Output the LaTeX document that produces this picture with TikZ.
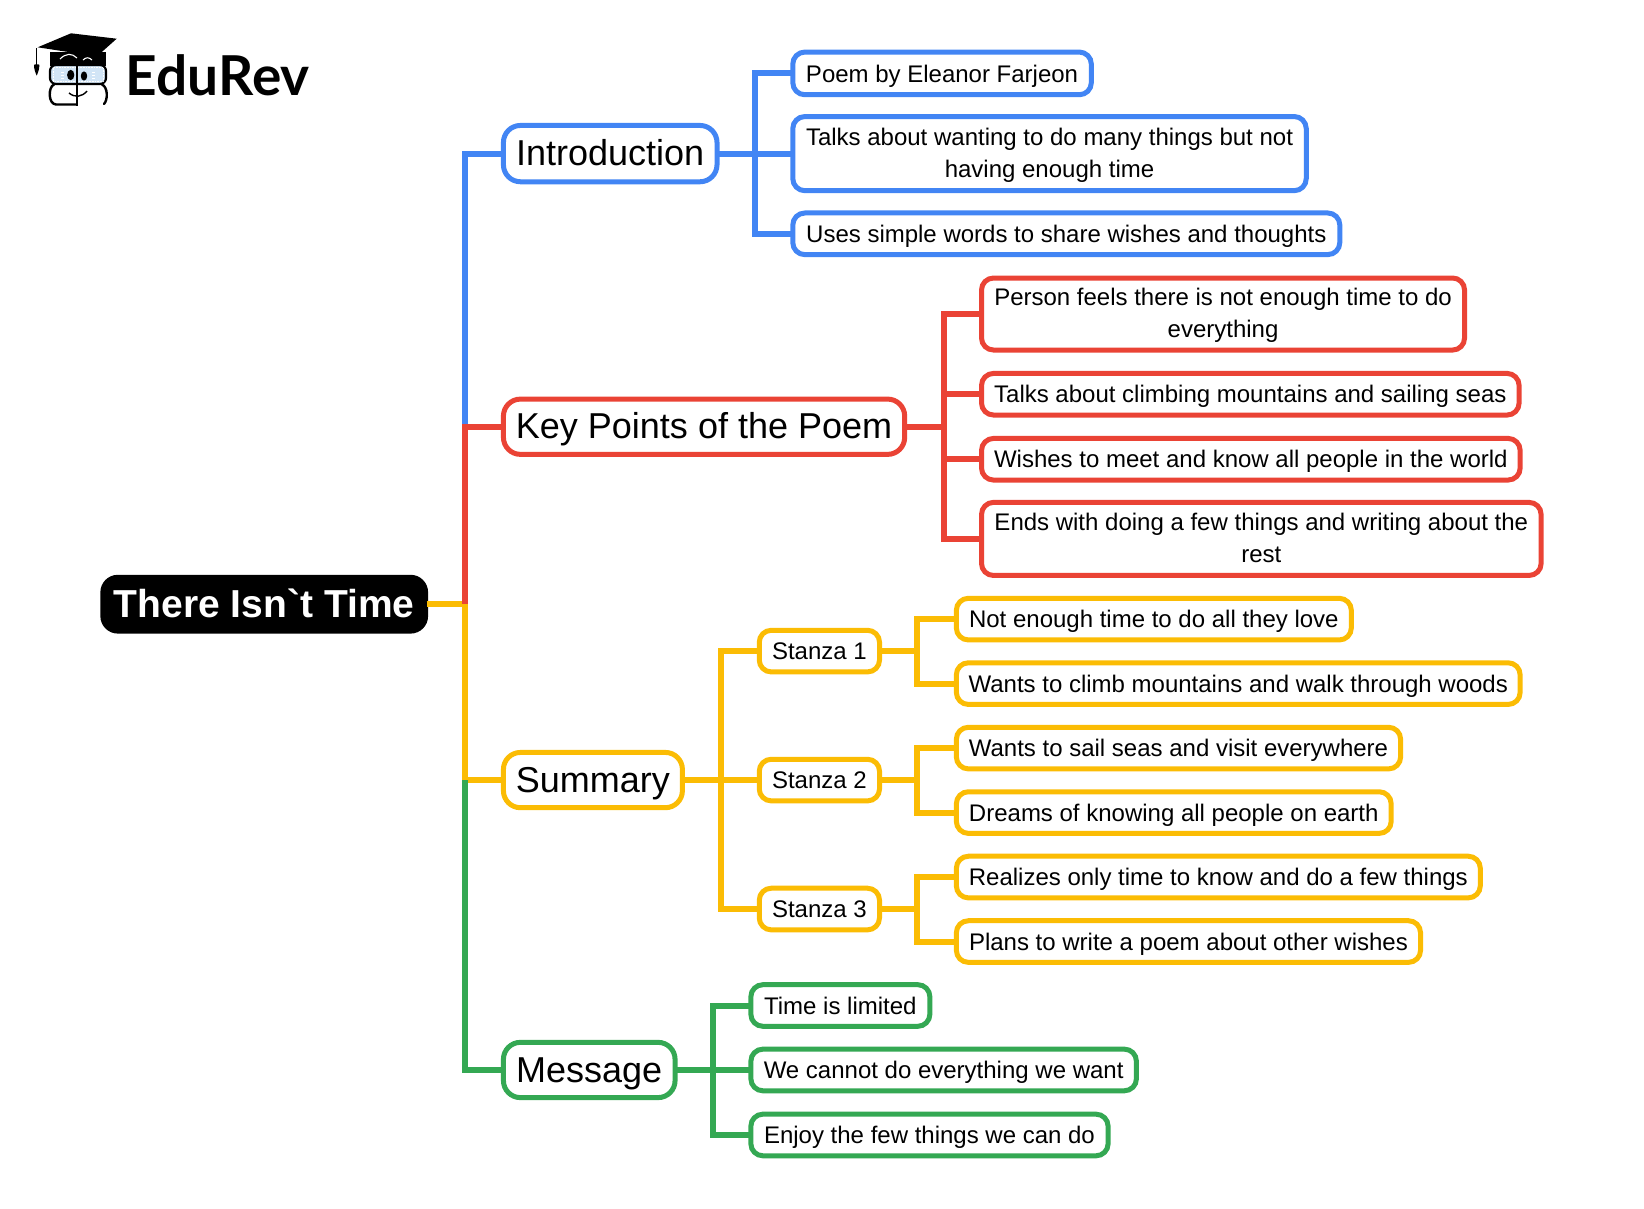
\documentclass[tikz,border=0pt]{standalone}
\usepackage{fontspec}
\setmainfont{Liberation Sans}
\newfontfamily\plainsans{Liberation Sans}
\newfontfamily\logofont{Lato}
\definecolor{cblue}{HTML}{4285F4}
\definecolor{cred}{HTML}{EA4335}
\definecolor{cyel}{HTML}{FBBC04}
\definecolor{cgrn}{HTML}{34A853}
\definecolor{lens}{HTML}{D2E5F6}
% line strut: #1 = distance of the baseline below the middle of the line, in em
\newcommand{\lst}[1]{\rule[-.28em]{0pt}{\dimexpr #1em*2+.56em\relax}}
% strut of the first line of a two-line label
\newcommand{\fst}{\rule{0pt}{.92em}}
\tikzset{
  every node/.style={inner sep=0pt,outer sep=0pt,align=center},
  box/.style={draw,fill=white,line width=5pt,rounded corners=12pt},
  leaf/.style={box,execute at begin node=\lst{.36},font=\fontsize{24}{31.5}\selectfont},
  leaftwo/.style={box,font=\fontsize{24}{31.5}\selectfont},
  topic/.style={box,rounded corners=17pt,execute at begin node=\lst{.34},font=\fontsize{36}{44}\selectfont},
  rootnode/.style={draw=black,line width=3pt,fill=black,text=white,rounded corners=16pt,execute at begin node=\lst{.34},font=\plainsans\bfseries\fontsize{39}{46}\selectfont},
  link/.style={line width=6pt,line join=miter},
  bl/.style={draw=cblue},
  rd/.style={draw=cred},
  yl/.style={draw=cyel},
  gr/.style={draw=cgrn},
}
% name, x1, y1, x2, y2 (outer edges), styles, text
\newcommand{\bx}[7]{%
  \pgfmathsetmacro{\wid}{(#4-#2)*1.0485-2.4}%
  \pgfmathsetmacro{\hei}{(#5-#3)*1.0485-2.4}%
  \node[#6,minimum width=\wid pt,minimum height=\hei pt] (#1) at ({(#2+#4)/2},{(#3+#5)/2}) {#7};}
\begin{document}
\begin{tikzpicture}[x=1.0485pt,y=-1.0485pt]
\useasboundingbox (0,0) rectangle (1568,1153);

\bx{root}{96}{548.5}{408}{604}{rootnode}{There Isn`t Time}
\bx{intro}{479}{118.5}{685}{174.5}{topic,bl}{Introduction}
\bx{keyp}{479}{379.5}{864}{434.5}{topic,rd}{Key Points of the Poem}
\bx{summ}{479}{716.5}{652}{771.5}{topic,yl}{Summary}
\bx{mess}{479}{993}{645}{1048}{topic,gr}{Message}

\bx{a1}{755}{48.5}{1042}{91.5}{leaf,bl}{Poem by Eleanor Farjeon}
\bx{a2}{755}{110}{1247}{183}{leaftwo,bl}{\fst Talks about wanting to do many things but not\\\lst{.36}having enough time}
\bx{a3}{755}{202}{1279}{244}{leaf,bl}{Uses simple words to share wishes and thoughts}

\bx{b1}{935}{264}{1398}{335}{leaftwo,rd}{\fst Person feels there is not enough time to do\\\lst{.36}everything}
\bx{b2}{935}{355}{1450}{397}{leaf,rd}{Talks about climbing mountains and sailing seas}
\bx{b3}{935}{417}{1451}{459}{leaf,rd}{Wishes to meet and know all people in the world}
\bx{b4}{935}{478}{1471}{550}{leaftwo,rd}{\fst Ends with doing a few things and writing about the\\\lst{.36}rest}

\bx{s1}{723}{600}{840}{642}{leaf,yl}{Stanza 1}
\bx{s2}{723}{723}{840}{765}{leaf,yl}{Stanza 2}
\bx{s3}{723}{846}{840}{888}{leaf,yl}{Stanza 3}
\bx{c1}{911}{569.5}{1290}{611.5}{leaf,yl}{Not enough time to do all they love}
\bx{c2}{911}{631}{1451}{673}{leaf,yl}{Wants to climb mountains and walk through woods}
\bx{c3}{911}{692.5}{1337}{734.5}{leaf,yl}{Wants to sail seas and visit everywhere}
\bx{c4}{911}{754}{1328}{796}{leaf,yl}{Dreams of knowing all people on earth}
\bx{c5}{911}{815.5}{1413}{857.5}{leaf,yl}{Realizes only time to know and do a few things}
\bx{c6}{911}{877}{1356}{919}{leaf,yl}{Plans to write a poem about other wishes}

\bx{d1}{715}{938}{888}{980}{leaf,gr}{Time is limited}
\bx{d2}{715}{999.5}{1085}{1041.5}{leaf,gr}{We cannot do everything we want}
\bx{d3}{715}{1061.5}{1058}{1103.5}{leaf,gr}{Enjoy the few things we can do}

% bus lines
\coordinate (xT) at (443.8,0);
\coordinate (xA) at (720,0);
\coordinate (xB) at (900,0);
\coordinate (xC) at (688,0);
\coordinate (xS) at (875,0);
\coordinate (xD) at (680,0);

\draw[link,bl] (intro.west) -| (xT |- keyp.west);
\draw[link,yl] (root.east) -- (xT |- root.east) |- (summ.west);
\draw[link,rd] (keyp.west) -| (xT |- root.east);
\draw[link,gr] (mess.west) -| (xT |- summ.west);

\draw[link,bl] (intro.east) -- (a2.west) (a1.west) -| (xA |- intro.east) (a3.west) -| (xA |- intro.east);
\draw[link,rd] (keyp.east) -- (xB |- keyp.east) (b1.west) -| (xB |- keyp.east) (b2.west) -| (xB |- keyp.east) (b3.west) -| (xB |- keyp.east) (b4.west) -| (xB |- keyp.east);
\draw[link,yl] (summ.east) -- (s2.west) (s1.west) -| (xC |- summ.east) (s3.west) -| (xC |- summ.east);
\draw[link,yl] (s1.east) -- (xS |- s1.east) (c1.west) -| (xS |- s1.east) (c2.west) -| (xS |- s1.east);
\draw[link,yl] (s2.east) -- (xS |- s2.east) (c3.west) -| (xS |- s2.east) (c4.west) -| (xS |- s2.east);
\draw[link,yl] (s3.east) -- (xS |- s3.east) (c5.west) -| (xS |- s3.east) (c6.west) -| (xS |- s3.east);
\draw[link,gr] (mess.east) -- (d2.west) (d1.west) -| (xD |- mess.east) (d3.west) -| (xD |- mess.east);

% logo (coordinates in reference pixels)
\begin{scope}[x=1pt,y=-1pt]
\fill[black] (50,52) -- (106,52) -- (106,66) -- (50,66) -- cycle;
\fill[black] (37.7,47.3) -- (71,33.3) -- (116.7,38.7) -- (94.3,58.7) -- (75,53) -- cycle;
\draw[white,line width=1.1pt] (60,59) .. controls (66,53) and (72,53) .. (77,58) (83,60) .. controls (86,57) and (89,57) .. (92,60);
\draw[black,line width=1.4pt] (36.7,48) -- (36.7,66);
\fill[black] (34,65) .. controls (34,64) and (39.4,64) .. (39.4,65) .. controls (39.4,69) and (38,73) .. (36.7,75.5) .. controls (35.4,73) and (34,69) .. (34,65) -- cycle;
\draw[black,line width=2.2pt,fill=lens,rounded corners=6pt] (50,65) rectangle (106,84);
\draw[white,line width=.6pt,densely dotted] (53,67.5) rectangle (103,81.5);
\draw[white,line width=.8pt] (61,72) -- (64,72) (61,75) -- (64,75) (61,78) -- (64,78) (92,72) -- (95,72) (92,75) -- (95,75) (92,78) -- (95,78);
\draw[black,line width=2.4pt,line cap=round] (54,84.5) .. controls (48,87) and (48,104) .. (56,104.5) -- (76,104.5);
\draw[black,line width=2.4pt,line cap=round] (102,84.5) .. controls (108,87) and (108,100) .. (104,104);
\draw[black,line width=2pt] (77.3,63) -- (77.3,105.5);
\fill[black] (70.7,75) ellipse (3.6pt and 5.2pt);
\fill[black] (84,76) ellipse (3.2pt and 4.6pt);
\draw[black,line width=1.4pt] (69,93) .. controls (75,98) and (82,97) .. (87,91);
\node[anchor=base west,font=\logofont\bfseries\fontsize{55}{60}\selectfont] (logo) at (126,95) {EduRev};
\end{scope}
\end{tikzpicture}
\end{document}
